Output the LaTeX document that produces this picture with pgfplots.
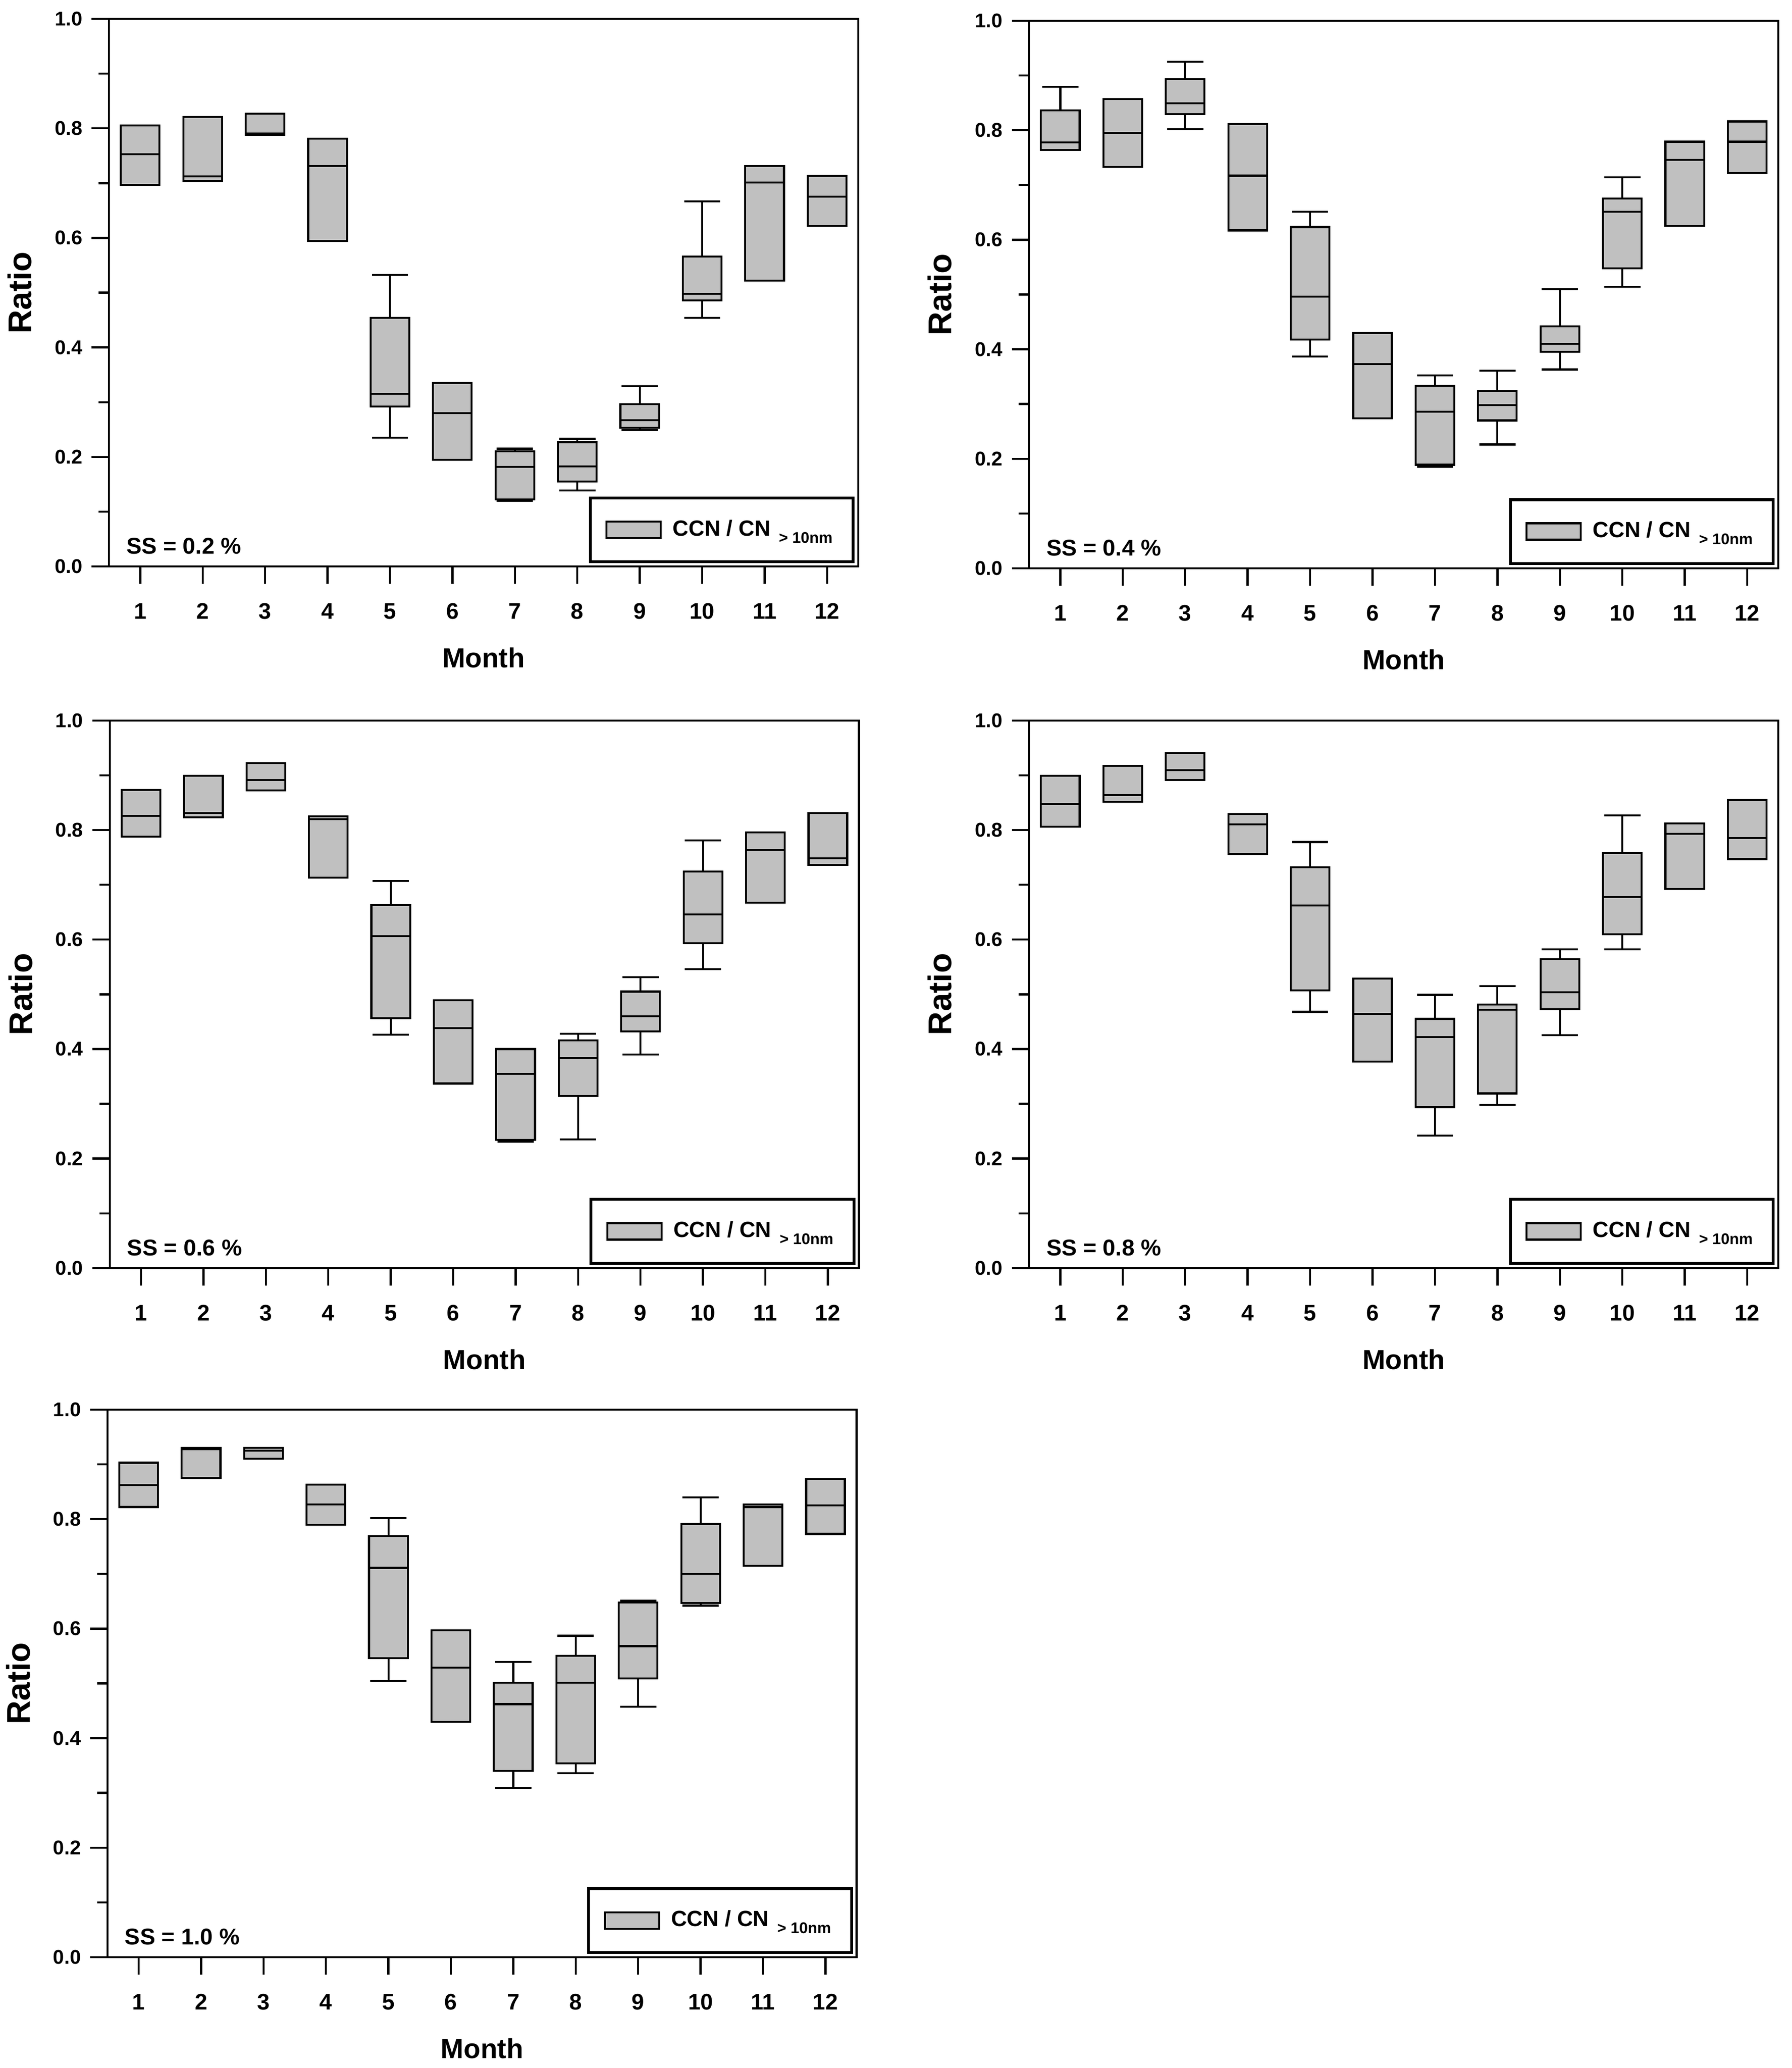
\documentclass[border=0pt]{standalone}
\usepackage{fontspec}
\setmainfont{Liberation Sans}
\usepackage{pgfplots}
\pgfplotsset{compat=1.18}
\usepgfplotslibrary{statistics}
\definecolor{boxgray}{RGB}{192,192,192}

\newcommand\bx[6]{\addplot[forget plot, boxplot prepared={draw position=#1, lower whisker=#2, lower quartile=#3, median=#4, upper quartile=#5, upper whisker=#6}] coordinates {};}

\pgfplotsset{
  ccnaxis/.style={
    scale only axis, width=286pt, height=209pt,
    xmin=0.5, xmax=12.5, ymin=0, ymax=1,
    xtick={1,2,3,4,5,6,7,8,9,10,11,12},
    xticklabels={1,2,3,4,5,6,7,8,9,10,11,12},
    ytick={0,0.2,0.4,0.6,0.8,1.0},
    yticklabels={0.0,0.2,0.4,0.6,0.8,1.0},
    minor ytick={0.1,0.3,0.5,0.7,0.9},
    tick align=outside, xtick pos=bottom, ytick pos=left,
    major tick length=6.6pt, minor tick length=4pt,
    axis line style={line width=0.8pt},
    every tick/.style={black, line width=0.8pt},
    yticklabel style={font=\fontsize{7.6}{9}\selectfont\bfseries},
    xticklabel style={font=\fontsize{8.6}{10}\selectfont\bfseries, yshift=-4pt},
    xlabel={Month}, ylabel={Ratio},
    every axis x label/.style={at={(axis description cs:0.5,-0.167)}, anchor=center, font=\fontsize{10.5}{12}\selectfont\bfseries},
    every axis y label/.style={at={(axis description cs:-0.119,0.5)}, anchor=center, rotate=90, font=\fontsize{12.5}{14}\selectfont\bfseries},
    boxplot/draw direction=y,
    boxplot/box extend=0.62,
    boxplot/whisker extend=0.58,
    boxplot/every box/.style={draw=black, fill=boxgray, line width=0.75pt},
    boxplot/every whisker/.style={black, line width=0.75pt},
    boxplot/every median/.style={black, line width=0.75pt},
    legend style={at={(0.995,0.006)}, anchor=south east, draw=black, line width=1.1pt, fill=white,
      inner xsep=5.8pt, inner ysep=6.4pt, font=\fontsize{8.4}{10}\selectfont\bfseries},
    legend cell align=left,
    legend image code/.code={\draw[fill=boxgray, draw=black, line width=0.8pt] (0pt,-3.15pt) rectangle (20.7pt,3.15pt);},
  }
}
\newcommand\ccnlegend{\addlegendimage{black}\addlegendentry{\hspace{2.2pt}CCN / CN\hspace{3.2pt}\raisebox{-2.7pt}{\fontsize{5.9}{7}\selectfont\bfseries > 10nm}\hspace{-2.5pt}}}
\newcommand\sslabel[1]{\node[anchor=base west, font=\fontsize{8.7}{10}\selectfont\bfseries] at (rel axis cs:0.011,0.023) {SS = #1 \%};}

\begin{document}
\begin{tikzpicture}
\useasboundingbox (0,0) rectangle (684pt,789.3pt);

% SS = 0.2 %
\begin{axis}[ccnaxis, at={(41.6pt,573.1pt)}, anchor=south west]
\ccnlegend
\bx{1}{0.697}{0.697}{0.753}{0.805}{0.805}
\bx{2}{0.704}{0.704}{0.712}{0.821}{0.821}
\bx{3}{0.788}{0.788}{0.791}{0.827}{0.827}
\bx{4}{0.594}{0.594}{0.731}{0.781}{0.781}
\bx{5}{0.235}{0.292}{0.315}{0.454}{0.532}
\bx{6}{0.195}{0.195}{0.280}{0.335}{0.335}
\bx{7}{0.120}{0.122}{0.182}{0.210}{0.215}
\bx{8}{0.139}{0.155}{0.183}{0.227}{0.233}
\bx{9}{0.249}{0.253}{0.267}{0.296}{0.329}
\bx{10}{0.454}{0.486}{0.498}{0.566}{0.667}
\bx{11}{0.522}{0.522}{0.701}{0.731}{0.731}
\bx{12}{0.622}{0.622}{0.675}{0.713}{0.713}
\sslabel{0.2}
\end{axis}

% SS = 0.4 %
\begin{axis}[ccnaxis, at={(392.8pt,572.4pt)}, anchor=south west]
\ccnlegend
\bx{1}{0.764}{0.764}{0.778}{0.836}{0.879}
\bx{2}{0.733}{0.733}{0.795}{0.857}{0.857}
\bx{3}{0.802}{0.829}{0.849}{0.893}{0.925}
\bx{4}{0.617}{0.617}{0.717}{0.811}{0.811}
\bx{5}{0.387}{0.418}{0.496}{0.623}{0.651}
\bx{6}{0.274}{0.274}{0.373}{0.430}{0.430}
\bx{7}{0.185}{0.189}{0.286}{0.333}{0.352}
\bx{8}{0.226}{0.270}{0.298}{0.324}{0.361}
\bx{9}{0.363}{0.395}{0.410}{0.442}{0.510}
\bx{10}{0.514}{0.548}{0.651}{0.675}{0.714}
\bx{11}{0.625}{0.625}{0.746}{0.779}{0.779}
\bx{12}{0.722}{0.722}{0.779}{0.816}{0.816}
\sslabel{0.4}
\end{axis}

% SS = 0.6 %
\begin{axis}[ccnaxis, at={(41.9pt,305.3pt)}, anchor=south west]
\ccnlegend
\bx{1}{0.788}{0.788}{0.826}{0.873}{0.873}
\bx{2}{0.823}{0.823}{0.831}{0.899}{0.899}
\bx{3}{0.872}{0.872}{0.891}{0.922}{0.922}
\bx{4}{0.713}{0.713}{0.820}{0.825}{0.825}
\bx{5}{0.426}{0.456}{0.606}{0.663}{0.707}
\bx{6}{0.337}{0.337}{0.438}{0.489}{0.489}
\bx{7}{0.231}{0.234}{0.355}{0.400}{0.400}
\bx{8}{0.235}{0.314}{0.384}{0.416}{0.428}
\bx{9}{0.390}{0.432}{0.460}{0.505}{0.531}
\bx{10}{0.546}{0.593}{0.646}{0.724}{0.781}
\bx{11}{0.667}{0.667}{0.764}{0.796}{0.796}
\bx{12}{0.736}{0.736}{0.748}{0.831}{0.831}
\sslabel{0.6}
\end{axis}

% SS = 0.8 %
\begin{axis}[ccnaxis, at={(392.8pt,305.3pt)}, anchor=south west]
\ccnlegend
\bx{1}{0.806}{0.806}{0.847}{0.899}{0.899}
\bx{2}{0.852}{0.852}{0.864}{0.917}{0.917}
\bx{3}{0.891}{0.891}{0.909}{0.940}{0.940}
\bx{4}{0.756}{0.756}{0.810}{0.829}{0.829}
\bx{5}{0.468}{0.507}{0.662}{0.732}{0.778}
\bx{6}{0.377}{0.377}{0.464}{0.529}{0.529}
\bx{7}{0.242}{0.294}{0.422}{0.455}{0.499}
\bx{8}{0.298}{0.319}{0.472}{0.481}{0.515}
\bx{9}{0.425}{0.473}{0.504}{0.564}{0.582}
\bx{10}{0.582}{0.610}{0.678}{0.758}{0.827}
\bx{11}{0.692}{0.692}{0.793}{0.812}{0.812}
\bx{12}{0.747}{0.747}{0.785}{0.855}{0.855}
\sslabel{0.8}
\end{axis}

% SS = 1.0 %
\begin{axis}[ccnaxis, at={(41pt,42.3pt)}, anchor=south west]
\ccnlegend
\bx{1}{0.822}{0.822}{0.862}{0.903}{0.903}
\bx{2}{0.875}{0.875}{0.928}{0.930}{0.930}
\bx{3}{0.910}{0.910}{0.925}{0.930}{0.930}
\bx{4}{0.790}{0.790}{0.827}{0.863}{0.863}
\bx{5}{0.505}{0.546}{0.711}{0.769}{0.802}
\bx{6}{0.430}{0.430}{0.529}{0.597}{0.597}
\bx{7}{0.309}{0.340}{0.462}{0.501}{0.539}
\bx{8}{0.336}{0.354}{0.501}{0.550}{0.587}
\bx{9}{0.457}{0.509}{0.568}{0.648}{0.651}
\bx{10}{0.642}{0.647}{0.700}{0.791}{0.840}
\bx{11}{0.715}{0.715}{0.822}{0.827}{0.827}
\bx{12}{0.773}{0.773}{0.825}{0.873}{0.873}
\sslabel{1.0}
\end{axis}
\end{tikzpicture}
\end{document}
